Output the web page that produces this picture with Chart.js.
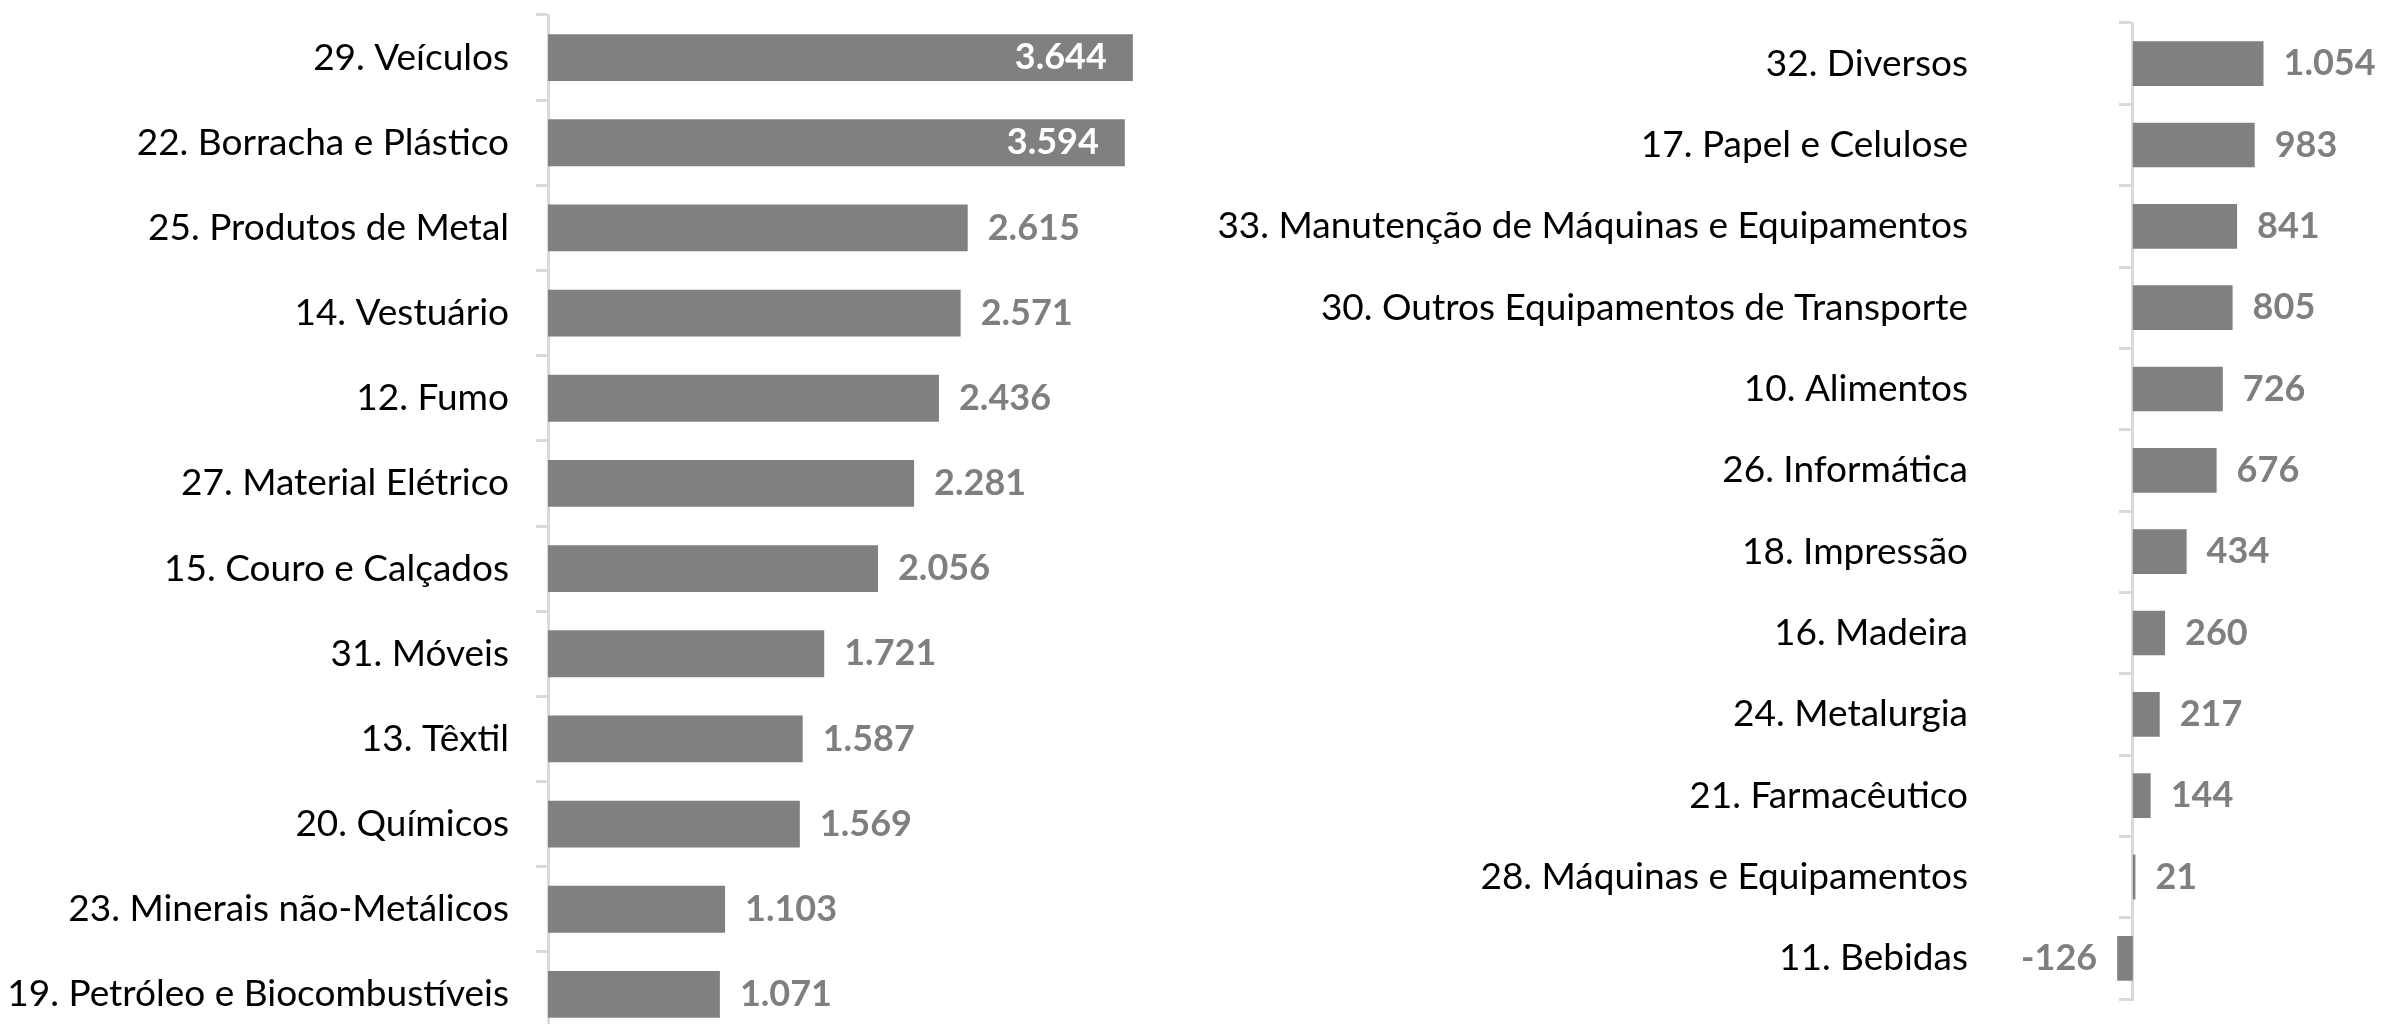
<!DOCTYPE html>
<html lang="pt">
<head>
    <meta charset="UTF-8">
    <title>Saldo por setor</title>
    <style>
        body, html {
            margin: 0;
            padding: 0;
            width: 2381px;
            height: 1024px;
            overflow: hidden;
            background: #ffffff;
        }

        #leftBox {
            position: absolute;
            left: 0;
            top: 0;
            width: 1200px;
            height: 1040px;
        }

        #rightBox {
            position: absolute;
            left: 1200px;
            top: 0;
            width: 1181px;
            height: 1024px;
        }
    </style>
</head>
<body>

<div id="leftBox"><canvas id="leftChart"></canvas></div>
<div id="rightBox"><canvas id="rightChart"></canvas></div>

<script src="https://cdn.jsdelivr.net/npm/chart.js"></script>
<script>
    const leftLabels = [
        '29. Veículos', '22. Borracha e Plástico', '25. Produtos de Metal', '14. Vestuário',
        '12. Fumo', '27. Material Elétrico', '15. Couro e Calçados', '31. Móveis',
        '13. Têxtil', '20. Químicos', '23. Minerais não-Metálicos', '19. Petróleo e Biocombustíveis'
    ];
    const leftValues = [3644, 3594, 2615, 2571, 2436, 2281, 2056, 1721, 1587, 1569, 1103, 1071];

    const rightLabels = [
        '32. Diversos', '17. Papel e Celulose', '33. Manutenção de Máquinas e Equipamentos',
        '30. Outros Equipamentos de Transporte', '10. Alimentos', '26. Informática',
        '18. Impressão', '16. Madeira', '24. Metalurgia', '21. Farmacêutico',
        '28. Máquinas e Equipamentos', '11. Bebidas'
    ];
    const rightValues = [1054, 983, 841, 805, 726, 676, 434, 260, 217, 144, 21, -126];

    const barColor = '#808080';
    const axisColor = '#d9d9d9';
    const valueFont = 'bold 36px Lato';
    const nameFont = { family: 'Lato', size: 37 };

    function formatNumber(v) {
        const s = String(Math.abs(v)).replace(/\B(?=(\d{3})+(?!\d))/g, '.');
        return (v < 0 ? '-' : '') + s;
    }

    // no extra room for the first/last name, the plot fills the layout padding box
    function noEdgePadding(s) {
        s.paddingTop = 0;
        s.paddingBottom = 0;
    }

    // writes the value next to each bar, or inside it when there is no room
    const valueLabels = {
        id: 'valueLabels',
        afterDatasetsDraw(chart) {
            const ctx = chart.ctx;
            const meta = chart.getDatasetMeta(0);
            const data = chart.data.datasets[0].data;
            ctx.save();
            ctx.font = valueFont;
            ctx.textBaseline = 'middle';
            meta.data.forEach((bar, i) => {
                const v = data[i];
                const text = formatNumber(v);
                const w = ctx.measureText(text).width;
                const gap = 20;
                if (v < 0) {
                    ctx.fillStyle = '#7f7f7f';
                    ctx.textAlign = 'right';
                    ctx.fillText(text, bar.x - gap, bar.y);
                } else if (bar.x + gap + w > chart.width) {
                    ctx.fillStyle = '#ffffff';
                    ctx.textAlign = 'right';
                    ctx.fillText(text, bar.x - 26, bar.y);
                } else {
                    ctx.fillStyle = '#7f7f7f';
                    ctx.textAlign = 'left';
                    ctx.fillText(text, bar.x + gap, bar.y);
                }
            });
            ctx.restore();
        }
    };

    function initLeftChart() {
        const ctx = document.getElementById('leftChart').getContext('2d');
        new Chart(ctx, {
            type: 'bar',
            data: {
                labels: leftLabels,
                datasets: [{
                    data: leftValues,
                    backgroundColor: barColor,
                    barPercentage: 0.55,
                    categoryPercentage: 1
                }]
            },
            options: {
                indexAxis: 'y',
                responsive: true,
                maintainAspectRatio: false,
                animation: false,
                layout: { padding: { top: 15, bottom: 3, right: 10 } },
                plugins: { legend: { display: false }, tooltip: { enabled: false } },
                scales: {
                    x: { display: false, min: 0, max: 4000 },
                    y: {
                        afterFit: s => { s.width = 548; noEdgePadding(s); },
                        border: { color: axisColor, width: 3 },
                        grid: { drawOnChartArea: false, color: axisColor, lineWidth: 3, tickLength: 12 },
                        ticks: { color: '#000000', font: nameFont, padding: 27 }
                    }
                }
            },
            plugins: [valueLabels]
        });
    }

    function initRightChart() {
        const ctx = document.getElementById('rightChart').getContext('2d');
        new Chart(ctx, {
            type: 'bar',
            data: {
                labels: rightLabels,
                datasets: [{
                    data: rightValues,
                    backgroundColor: barColor,
                    barPercentage: 0.55,
                    categoryPercentage: 1
                }]
            },
            options: {
                indexAxis: 'y',
                responsive: true,
                maintainAspectRatio: false,
                animation: false,
                layout: { padding: { top: 23, bottom: 25, right: 87 } },
                plugins: { legend: { display: false }, tooltip: { enabled: false } },
                scales: {
                    x: { display: false, min: -200, max: 1300 },
                    // the axis line sits at zero, the names on a second axis at the left
                    y: {
                        position: { x: 0 },
                        afterFit: noEdgePadding,
                        border: { color: axisColor, width: 3 },
                        grid: { drawOnChartArea: false, color: axisColor, lineWidth: 3, tickLength: 12 },
                        ticks: { display: false }
                    },
                    names: {
                        type: 'category',
                        position: 'left',
                        offset: true,
                        afterFit: s => { s.width = 908; noEdgePadding(s); },
                        border: { display: false },
                        grid: { display: false, drawTicks: false },
                        ticks: { color: '#000000', font: nameFont, padding: 140 }
                    }
                }
            },
            plugins: [valueLabels]
        });
    }

    document.addEventListener('DOMContentLoaded', () => {
        initLeftChart();
        initRightChart();
    });
</script>

</body>
</html>
